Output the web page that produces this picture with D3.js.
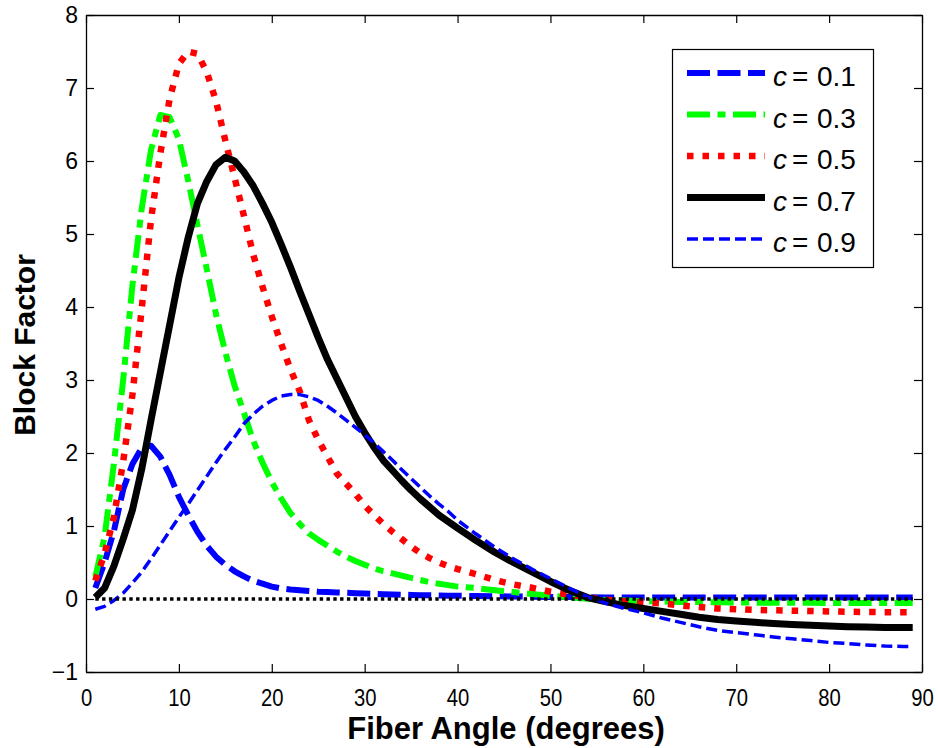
<!DOCTYPE html>
<html>
<head>
<meta charset="utf-8">
<script src="https://cdn.jsdelivr.net/npm/d3@7/dist/d3.min.js"></script>
<style>
  html, body { margin: 0; padding: 0; background: #fff; }
  svg { display: block; }
  text { font-family: "Liberation Sans", Arial, sans-serif; fill: #000; }
</style>
</head>
<body>
<svg id="chart" width="938" height="748"></svg>
<script>
// ---- data ----
const angles = [1,2,3,4,5,6,7,8,9,10,11,12,13,14,15,16,17,18,19,20,
  21,22,23,24,25,26,27,28,29,30,31,32,33,34,35,36,37,38,39,40,
  42,44,46,48,50,52,54,56,58,60,62,64,66,68,70,72,74,76,78,80,82,84,86,88,89];

const c01 = [0.15,0.5,0.93,1.5,1.85,2.07,2.1,1.95,1.7,1.4,1.15,0.92,0.73,0.58,0.47,0.38,0.31,0.25,0.21,0.17,
  0.145,0.13,0.12,0.11,0.1,0.095,0.09,0.085,0.08,0.075,0.07,0.066,0.062,0.059,0.056,0.053,0.05,0.048,0.046,0.044,
  0.041,0.038,0.035,0.032,0.029,0.026,0.024,0.022,0.02,0.02,0.02,0.02,0.02,0.02,0.02,0.02,0.02,0.02,0.02,0.02,0.02,0.02,0.02,0.02,0.02];

const c03 = [0.3,0.85,1.85,3.0,4.3,5.35,6.15,6.63,6.6,6.3,5.73,5.12,4.52,3.9,3.38,2.92,2.55,2.17,1.87,1.6,
  1.38,1.18,1.03,0.9,0.81,0.73,0.65,0.58,0.52,0.47,0.42,0.38,0.35,0.32,0.29,0.26,0.23,0.21,0.19,0.17,
  0.15,0.12,0.095,0.07,0.045,0.022,0.003,-0.012,-0.022,-0.03,-0.035,-0.04,-0.042,-0.045,-0.047,-0.05,-0.05,-0.052,-0.053,-0.054,-0.055,-0.055,-0.056,-0.056,-0.056];

const c05 = [0.25,0.62,1.12,1.88,2.8,3.98,5.2,6.1,6.85,7.33,7.5,7.47,7.22,6.82,6.28,5.77,5.25,4.72,4.28,3.87,
  3.5,3.15,2.85,2.45,2.18,1.95,1.72,1.58,1.44,1.28,1.15,1.03,0.92,0.82,0.72,0.63,0.56,0.5,0.45,0.41,
  0.34,0.26,0.2,0.155,0.1,0.06,0.02,-0.01,-0.03,-0.045,-0.06,-0.09,-0.11,-0.13,-0.14,-0.15,-0.155,-0.16,-0.165,-0.17,-0.175,-0.178,-0.18,-0.18,-0.18];

const c07 = [0.02,0.15,0.45,0.82,1.22,1.78,2.45,3.1,3.75,4.4,4.95,5.42,5.72,5.95,6.05,6.0,5.85,5.66,5.42,5.16,
  4.86,4.55,4.22,3.9,3.58,3.28,3.02,2.76,2.5,2.28,2.08,1.9,1.76,1.62,1.49,1.37,1.26,1.15,1.06,0.97,
  0.8,0.64,0.5,0.37,0.24,0.12,0.02,-0.04,-0.09,-0.13,-0.17,-0.21,-0.25,-0.28,-0.3,-0.32,-0.335,-0.35,-0.36,-0.37,-0.38,-0.385,-0.39,-0.39,-0.39];

const c09 = [-0.14,-0.1,-0.02,0.08,0.22,0.37,0.55,0.74,0.93,1.12,1.3,1.49,1.68,1.87,2.05,2.22,2.4,2.53,2.64,2.72,
  2.78,2.8,2.8,2.77,2.72,2.64,2.55,2.45,2.35,2.25,2.14,2.02,1.9,1.77,1.65,1.53,1.41,1.3,1.2,1.08,
  0.89,0.71,0.55,0.41,0.28,0.15,0.03,-0.06,-0.13,-0.19,-0.26,-0.32,-0.38,-0.43,-0.46,-0.49,-0.52,-0.545,-0.57,-0.595,-0.61,-0.63,-0.645,-0.65,-0.65];

const zeroLine = [[1, 0], [89, 0]];

const seriesLabels = ["0.1", "0.3", "0.5", "0.7", "0.9"];
const seriesValues = [c01, c03, c05, c07, c09];

const xTicks = [0,10,20,30,40,50,60,70,80,90];
const yTicks = [-1,0,1,2,3,4,5,6,7,8];

// ---- styles ----
const styles = [
  { color: "#0000ff", width: 6,   dash: "23 7.5" },
  { color: "#00ff00", width: 6,   dash: "23 7.5 8 7.5" },
  { color: "#ff0000", width: 6.5, dash: "6.5 9" },
  { color: "#000000", width: 7,   dash: null },
  { color: "#0000ff", width: 3.5, dash: "11 5" }
];

// ---- layout ----
const svg = d3.select("#chart");
const mLeft = 86, mRight = 922, mTop = 15, mBottom = 672;
const x = d3.scaleLinear().domain([0, 90]).range([mLeft, mRight]);
const y = d3.scaleLinear().domain([-1, 8]).range([mBottom, mTop]);

// curves
const line = d3.line().x(d => x(d[0])).y(d => y(d[1])).curve(d3.curveLinear);
const plot = svg.append("g");
seriesValues.forEach((vals, i) => {
  const pts = angles.map((a, j) => [a, vals[j]]);
  const s = styles[i];
  plot.append("path")
    .attr("d", line(pts))
    .attr("fill", "none")
    .attr("stroke", s.color)
    .attr("stroke-width", s.width)
    .attr("stroke-linejoin", "round")
    .attr("stroke-dasharray", s.dash);
});
plot.append("path")
  .attr("d", line(zeroLine))
  .attr("fill", "none")
  .attr("stroke", "#000")
  .attr("stroke-width", 3.4)
  .attr("stroke-dasharray", "3.4 3.4");

// axes (box with inward ticks)
const tk = 8;
const gB = svg.append("g").attr("transform", `translate(0,${mBottom})`)
  .call(d3.axisBottom(x).tickValues(xTicks).tickSize(-tk).tickSizeOuter(0).tickPadding(17.5));
gB.selectAll("text").attr("font-size", 23).attr("transform", "scale(0.88,1)");
const gT = svg.append("g").attr("transform", `translate(0,${mTop})`)
  .call(d3.axisTop(x).tickValues(xTicks).tickSize(-tk).tickSizeOuter(0).tickFormat(""));
const gL = svg.append("g").attr("transform", `translate(${mLeft},0)`)
  .call(d3.axisLeft(y).tickValues(yTicks).tickSize(-tk).tickSizeOuter(0).tickPadding(8));
gL.selectAll("text").attr("font-size", 23);
const gR = svg.append("g").attr("transform", `translate(${mRight},0)`)
  .call(d3.axisRight(y).tickValues(yTicks).tickSize(-tk).tickSizeOuter(0).tickFormat(""));
[gB, gT, gL, gR].forEach(g => {
  g.selectAll("path.domain").attr("stroke", "#000").attr("stroke-width", 1.3);
  g.selectAll(".tick line").attr("stroke", "#000").attr("stroke-width", 1.2);
  g.selectAll("text").attr("font-family", "Liberation Sans, Arial, sans-serif").attr("fill", "#000");
});

// axis titles
svg.append("text")
  .attr("x", 506).attr("y", 739)
  .attr("text-anchor", "middle")
  .attr("font-size", 31).attr("font-weight", "bold")
  .text("Fiber Angle (degrees)");
svg.append("text")
  .attr("transform", "translate(35,345) rotate(-90)")
  .attr("text-anchor", "middle")
  .attr("font-size", 30).attr("font-weight", "bold")
  .text("Block Factor");

// legend
const lg = svg.append("g");
lg.append("rect")
  .attr("x", 672.5).attr("y", 49.5).attr("width", 201).attr("height", 218)
  .attr("fill", "#fff").attr("stroke", "#000").attr("stroke-width", 1.2);
const rowY = d3.scaleLinear().domain([0, 4]).range([73, 239]);
seriesLabels.forEach((lab, i) => {
  const s = styles[i];
  const yy = rowY(i);
  lg.append("line")
    .attr("x1", 687).attr("x2", 765).attr("y1", yy).attr("y2", yy)
    .attr("stroke", s.color).attr("stroke-width", s.width)
    .attr("stroke-dasharray", s.dash);
  const t = lg.append("text").attr("y", yy + 13).attr("font-size", 28);
  t.append("tspan").attr("x", 773).attr("font-style", "italic").text("c");
  t.append("tspan").attr("x", 792).text("=");
  t.append("tspan").attr("x", 817).text(lab);
});
</script>
</body>
</html>
